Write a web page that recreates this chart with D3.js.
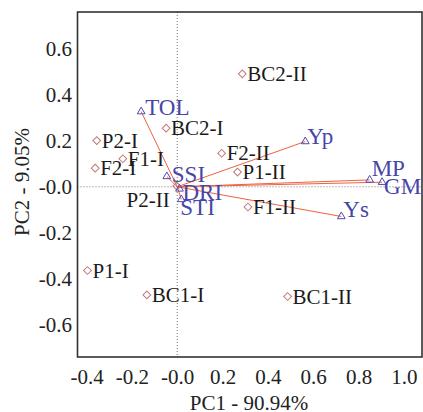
<!DOCTYPE html>
<html>
<head>
<meta charset="utf-8">
<script src="https://cdn.jsdelivr.net/npm/d3@7"></script>
<style>
  body { margin: 0; background: #fff; }
  svg { display: block; font-family: "Liberation Serif", "Times New Roman", serif; }
</style>
</head>
<body>
<div class="chartBoard"></div>
<script>
// genotype scores (diamonds)
const genotypes = ["BC2-II", "BC2-I", "P2-I", "F1-I", "F2-I", "F2-II", "P1-II", "P2-II", "F1-II", "P1-I", "BC1-I", "BC1-II"];
const genoPC1 = [0.287, -0.049, -0.355, -0.240, -0.362, 0.196, 0.266, -0.002, 0.312, -0.396, -0.134, 0.487];
const genoPC2 = [0.491, 0.255, 0.201, 0.122, 0.081, 0.146, 0.064, 0.003, -0.088, -0.364, -0.470, -0.477];

// index loadings (triangles + vectors)
const indices = ["TOL", "SSI", "DRI", "STI", "Yp", "MP", "GMP", "Ys"];
const indPC1 = [-0.159, -0.046, 0.010, 0.018, 0.565, 0.849, 0.904, 0.724];
const indPC2 = [0.327, 0.045, -0.009, -0.055, 0.197, 0.030, 0.020, -0.129];

const xTicks = [-0.4, -0.2, 0, 0.2, 0.4, 0.6, 0.8, 1.0];
const xTickLabels = ["-0.4", "-0.2", "-0.0", "0.2", "0.4", "0.6", "0.8", "1.0"];
const yTicks = [0.6, 0.4, 0.2, 0, -0.2, -0.4, -0.6];
const yTickLabels = ["0.6", "0.4", "0.2", "-0.0", "-0.2", "-0.4", "-0.6"];

const w = 423, h = 412;
const pLeft = 77.5, pRight = 422, pTop = 12, pBottom = 357;

const svg = d3.select(".chartBoard")
    .append("svg")
    .attr("width", w)
    .attr("height", h);

const x = d3.scaleLinear().domain([-0.44, 1.08]).range([pLeft, pRight]);
const y = d3.scaleLinear().domain([-0.74, 0.76]).range([pBottom, pTop]);

// dotted zero lines
svg.append("line")
    .attr("x1", x(0)).attr("x2", x(0))
    .attr("y1", pTop).attr("y2", pBottom)
    .attr("stroke", "#777").attr("stroke-dasharray", "1,2");
svg.append("line")
    .attr("x1", pLeft).attr("x2", pRight)
    .attr("y1", y(0)).attr("y2", y(0))
    .attr("stroke", "#777").attr("stroke-dasharray", "1,2");

// axes (labels only)
const xAxis = d3.axisBottom(x)
    .tickValues(xTicks)
    .tickFormat((d, i) => xTickLabels[i])
    .tickSize(0)
    .tickPadding(12);
const yAxis = d3.axisLeft(y)
    .tickValues(yTicks)
    .tickFormat((d, i) => yTickLabels[i])
    .tickSize(0)
    .tickPadding(5.5);

svg.append("g")
    .attr("transform", "translate(0," + pBottom + ")")
    .call(xAxis)
    .call(g => g.select(".domain").remove())
    .selectAll("text")
    .attr("font-size", 21).attr("font-family", "Liberation Serif").attr("fill", "#222");

svg.append("g")
    .attr("transform", "translate(" + pLeft + ",0)")
    .call(yAxis)
    .call(g => g.select(".domain").remove())
    .selectAll("text")
    .attr("font-size", 21).attr("font-family", "Liberation Serif").attr("fill", "#222");

// frame
svg.append("rect")
    .attr("x", pLeft).attr("y", pTop)
    .attr("width", pRight - pLeft).attr("height", pBottom - pTop)
    .attr("fill", "none")
    .attr("stroke", "#333")
    .attr("stroke-width", 1.6);

// axis titles
svg.append("text")
    .attr("x", 249).attr("y", 410)
    .attr("text-anchor", "middle")
    .attr("font-size", 21).attr("fill", "#222")
    .text("PC1 - 90.94%");
svg.append("text")
    .attr("transform", "translate(22,182) rotate(-90)")
    .attr("text-anchor", "middle")
    .attr("dominant-baseline", "central")
    .attr("font-size", 21).attr("fill", "#222")
    .text("PC2 - 9.05%");

// vectors
const indData = indices.map((n, i) => ({ name: n, pc1: indPC1[i], pc2: indPC2[i] }));
svg.selectAll(".vec")
    .data(indData)
    .enter()
    .append("line")
    .attr("class", "vec")
    .attr("x1", x(0)).attr("y1", y(0))
    .attr("x2", d => x(d.pc1)).attr("y2", d => y(d.pc2))
    .attr("stroke", "#f0603f")
    .attr("stroke-width", 1);

// genotype diamonds
const genoData = genotypes.map((n, i) => ({ name: n, pc1: genoPC1[i], pc2: genoPC2[i] }));
const diamond = d3.symbol().type(d3.symbolSquare).size(30);
svg.selectAll(".geno")
    .data(genoData)
    .enter()
    .append("path")
    .attr("class", "geno")
    .attr("d", diamond)
    .attr("transform", d => "translate(" + x(d.pc1) + "," + y(d.pc2) + ") rotate(45)")
    .attr("fill", "none")
    .attr("stroke", "#c07a7a")
    .attr("stroke-width", 1);

// label nudges [dx, dy, anchor]
const genoNudge = { "P2-II": [-7, 14, "end"] };
svg.selectAll(".genoLabel")
    .data(genoData)
    .enter()
    .append("text")
    .attr("class", "genoLabel")
    .attr("x", d => x(d.pc1) + (genoNudge[d.name] ? genoNudge[d.name][0] : 5))
    .attr("y", d => y(d.pc2) + (genoNudge[d.name] ? genoNudge[d.name][1] : 0))
    .attr("text-anchor", d => genoNudge[d.name] ? genoNudge[d.name][2] : "start")
    .attr("dominant-baseline", "central")
    .attr("font-size", 21)
    .attr("fill", "#1a1a1a")
    .text(d => d.name);

// index triangles
const tri = d3.symbol().type(d3.symbolTriangle).size(26);
svg.selectAll(".ind")
    .data(indData)
    .enter()
    .append("path")
    .attr("class", "ind")
    .attr("d", tri)
    .attr("transform", d => "translate(" + x(d.pc1) + "," + y(d.pc2) + ")")
    .attr("fill", "none")
    .attr("stroke", "#4b4bb0")
    .attr("stroke-width", 1);

const indNudge = {
    "TOL": [4, -4], "SSI": [5, -2], "DRI": [3, 4], "STI": [-1, 8],
    "Yp": [2, -5], "MP": [2, -11], "GMP": [2, 4], "Ys": [2, -7]
};
svg.selectAll(".indLabel")
    .data(indData)
    .enter()
    .append("text")
    .attr("class", "indLabel")
    .attr("x", d => x(d.pc1) + indNudge[d.name][0])
    .attr("y", d => y(d.pc2) + indNudge[d.name][1])
    .attr("dominant-baseline", "central")
    .attr("font-size", 23)
    .attr("fill", "#4646a8")
    .text(d => d.name);
</script>
</body>
</html>
